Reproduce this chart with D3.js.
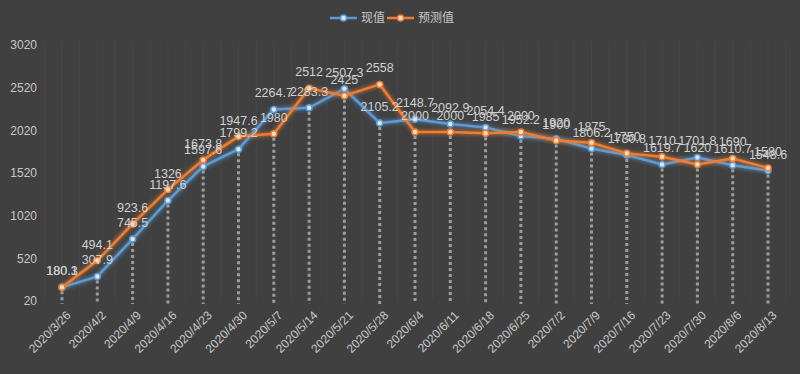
<!DOCTYPE html>
<html>
<head>
<meta charset="utf-8">
<script src="https://cdn.jsdelivr.net/npm/d3@7"></script>
<style>
  html, body { margin: 0; padding: 0; background: #404040; }
  svg { display: block; font-family: "Noto Sans CJK SC", "DejaVu Sans", sans-serif; }
</style>
</head>
<body>
<div id="chart"></div>
<script>
const width = 800;
const height = 374;

const dates = [
  "2020/3/26", "2020/4/2", "2020/4/9", "2020/4/16", "2020/4/23", "2020/4/30",
  "2020/5/7", "2020/5/14", "2020/5/21", "2020/5/28", "2020/6/4", "2020/6/11",
  "2020/6/18", "2020/6/25", "2020/7/2", "2020/7/9", "2020/7/16", "2020/7/23",
  "2020/7/30", "2020/8/6", "2020/8/13"
];
const actual = [
  180.1, 307.9, 745.5, 1197.6, 1597.6, 1799.2, 2264.7, 2283.3, 2507.3, 2105.2,
  2148.7, 2092.9, 2054.4, 1952.2, 1920, 1806.2, 1730.8, 1619.7, 1701.8, 1610.7, 1548.6
];
const predicted = [
  180.3, 494.1, 923.6, 1326, 1673.8, 1947.6, 1980, 2512, 2425, 2558,
  2000, 2000, 1985, 2000, 1900, 1875, 1750, 1710, 1620, 1690, 1580
];
const yTicks = [20, 520, 1020, 1520, 2020, 2520, 3020];
const seriesNames = ["现值", "预测值"];
const colors = ["#5b9bd5", "#ed7d31"];
const labelFont = "'Liberation Sans', 'DejaVu Sans', sans-serif";

const svg = d3.select("#chart").append("svg")
  .attr("width", width)
  .attr("height", height);

svg.append("rect").attr("width", width).attr("height", height).attr("fill", "#404040");

const defs = svg.append("defs");
const glow = defs.append("filter").attr("id", "glow")
  .attr("x", "-20%").attr("y", "-20%").attr("width", "140%").attr("height", "140%");
glow.append("feGaussianBlur").attr("in", "SourceGraphic").attr("stdDeviation", 2.2).attr("result", "blur");
const merge = glow.append("feMerge");
merge.append("feMergeNode").attr("in", "blur");
merge.append("feMergeNode").attr("in", "SourceGraphic");

const x = d3.scalePoint().domain(dates).range([62, 768]);
const y = d3.scaleLinear().domain([20, 3020]).range([301, 45]);
const step = x.step();

// faint vertical grid
const gridX = [x(dates[0]) - step / 2];
dates.forEach(d => {
  gridX.push(x(d));
  gridX.push(x(d) + step / 2);
});
svg.append("g").selectAll("line").data(gridX).join("line")
  .attr("x1", d => d).attr("x2", d => d)
  .attr("y1", y(3020) - 4).attr("y2", y(20))
  .attr("stroke", "#464646").attr("stroke-width", 1);

// y axis labels
const yAxis = d3.axisLeft(y).tickValues(yTicks).tickFormat(d3.format("d")).tickSize(0).tickPadding(0);
const yg = svg.append("g").attr("transform", "translate(37,0)").call(yAxis);
yg.select(".domain").remove();
yg.selectAll("text").attr("fill", "#c8c8c8").style("font-size", "12px")
  .style("font-family", labelFont);

// x axis labels
const xAxis = d3.axisBottom(x).tickSize(0).tickPadding(0);
const xg = svg.append("g").attr("transform", `translate(0,${y(20)})`).call(xAxis);
xg.select(".domain").remove();
xg.selectAll("text")
  .attr("fill", "#c8c8c8")
  .style("font-size", "12px")
  .style("font-family", labelFont)
  .attr("text-anchor", "end")
  .attr("dy", "0.35em")
  .attr("y", 0)
  .attr("transform", "translate(6,12) rotate(-45)");

// drop lines
svg.append("g").selectAll("line").data(dates).join("line")
  .attr("x1", d => x(d)).attr("x2", d => x(d))
  .attr("y1", (d, i) => y(Math.min(actual[i], predicted[i])) + 4)
  .attr("y2", y(20) + 3)
  .attr("stroke", "#9c9c9c")
  .attr("stroke-width", 3)
  .attr("stroke-dasharray", "3,3");

const line = d3.line().x((d, i) => x(dates[i])).y(d => y(d));
const series = [actual, predicted];

series.forEach((vals, s) => {
  const g = svg.append("g");
  g.append("path").datum(vals)
    .attr("d", line)
    .attr("fill", "none")
    .attr("stroke", colors[s])
    .attr("stroke-width", 2.5)
    .attr("filter", "url(#glow)");
  g.selectAll("circle").data(vals).join("circle")
    .attr("cx", (d, i) => x(dates[i]))
    .attr("cy", d => y(d))
    .attr("r", 3)
    .attr("fill", s === 0 ? "#dbe7f3" : "#f8dcc8")
    .attr("stroke", colors[s])
    .attr("stroke-width", 1.5);
});

// data labels
series.forEach((vals, s) => {
  svg.append("g").selectAll("text").data(vals).join("text")
    .attr("x", (d, i) => x(dates[i]))
    .attr("y", d => y(d) - 12)
    .attr("text-anchor", "middle")
    .attr("fill", "#d0d0d0")
    .style("font-size", "12.5px")
    .style("font-family", labelFont)
    .text(d => d);
});

// legend
const legend = svg.append("g").attr("transform", "translate(330,18)");
const legendX = [0, 57];
seriesNames.forEach((name, s) => {
  const lg = legend.append("g").attr("transform", `translate(${legendX[s]},0)`);
  lg.append("line").attr("x1", 0).attr("x2", 27).attr("y1", 0).attr("y2", 0)
    .attr("stroke", colors[s]).attr("stroke-width", 2.5);
  lg.append("circle").attr("cx", 13.5).attr("cy", 0).attr("r", 3)
    .attr("fill", s === 0 ? "#dbe7f3" : "#f8dcc8")
    .attr("stroke", colors[s]).attr("stroke-width", 1.5);
  lg.append("text").attr("x", 31).attr("y", 0).attr("dy", "0.35em")
    .attr("fill", "#c8c8c8").style("font-size", "12px").text(name);
});
</script>
</body>
</html>
